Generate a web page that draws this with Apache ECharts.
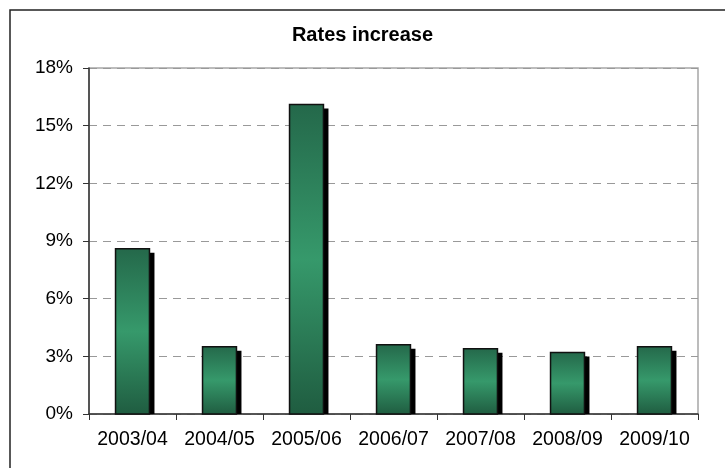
<!DOCTYPE html>
<html>
<head>
<meta charset="utf-8">
<script src="https://cdn.jsdelivr.net/npm/echarts@6/dist/echarts.min.js"></script>
<style>
  html, body { margin: 0; padding: 0; background: #fff; }
  #chart { width: 725px; height: 468px; }
</style>
</head>
<body>
<div id="chart"></div>
<script>
// Yearly rate increases, in percent
const seasons = ['2003/04', '2004/05', '2005/06', '2006/07', '2007/08', '2008/09', '2009/10'];
const increases = [8.6, 3.5, 16.1, 3.6, 3.4, 3.2, 3.5];
const yTicks = [0, 3, 6, 9, 12, 15, 18];

const chart = echarts.init(document.getElementById('chart'), null, { renderer: 'canvas' });

const barFill = new echarts.graphic.LinearGradient(0, 0, 0, 1, [
  { offset: 0, color: '#24684a' },
  { offset: 0.5, color: '#36996b' },
  { offset: 1, color: '#1f5c40' }
]);

// Each column: a hard black drop shadow clipped at the baseline, then the gradient bar
function renderColumn(params, api) {
  const idx = api.value(0);
  const val = api.value(1);
  const top = api.coord([idx, val]);
  const base = api.coord([idx, 0]);
  const w = api.size([1, 0])[0] * 0.39;
  const x = top[0] - w / 2;
  const h = base[1] - top[1];
  return {
    type: 'group',
    children: [
      {
        type: 'rect',
        shape: { x: x + 5, y: top[1] + 4, width: w, height: h - 4 },
        style: { fill: '#000' }
      },
      {
        type: 'rect',
        shape: { x: x, y: top[1], width: w, height: h },
        style: { fill: barFill, stroke: '#111', lineWidth: 1.5 }
      }
    ]
  };
}

chart.setOption({
  animation: false,
  title: {
    text: 'Rates increase',
    left: 'center',
    top: 20,
    textStyle: { fontFamily: 'Liberation Sans', fontSize: 20, fontWeight: 'bold', color: '#000' }
  },
  graphic: [{
    type: 'rect',
    z: 100,
    shape: { x: 10, y: 10, width: 800, height: 600 },
    style: { fill: 'none', stroke: '#222', lineWidth: 1.5 }
  }],
  grid: {
    left: 89, right: 27, top: 68, bottom: 54,
    show: true, borderColor: '#a6a6a6', borderWidth: 1.5, backgroundColor: '#fff'
  },
  xAxis: {
    type: 'category',
    data: seasons,
    boundaryGap: true,
    axisLine: { lineStyle: { color: '#333', width: 1.5 } },
    axisTick: { show: true, length: 6, alignWithLabel: false, lineStyle: { color: '#333' } },
    axisLabel: { interval: 0, hideOverlap: false, margin: 16, fontFamily: 'Liberation Sans', fontSize: 19.5, color: '#000' }
  },
  yAxis: {
    type: 'value',
    min: yTicks[0],
    max: yTicks[yTicks.length - 1],
    interval: 3,
    axisLine: { show: true, lineStyle: { color: '#333', width: 1.5 } },
    axisTick: { show: true, length: 6, lineStyle: { color: '#333' } },
    axisLabel: { margin: 16, fontFamily: 'Liberation Sans', fontSize: 19, color: '#000', formatter: '{value}%' },
    splitLine: { show: true, lineStyle: { color: '#999', type: [8, 6], width: 1 } }
  },
  series: [{
    type: 'custom',
    renderItem: renderColumn,
    data: increases.map((v, i) => [i, v]),
    encode: { x: 0, y: 1 },
    z: 3
  }]
});
</script>
</body>
</html>
